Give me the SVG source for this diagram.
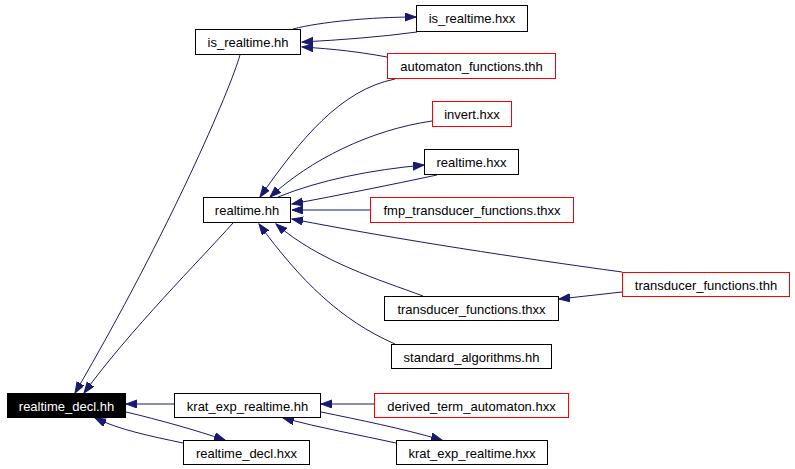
<svg xmlns="http://www.w3.org/2000/svg" width="795" height="469" viewBox="0 0 795 469">
<defs>
<marker id="ah" markerUnits="userSpaceOnUse" markerWidth="12" markerHeight="9" refX="11" refY="4" orient="auto">
<path d="M0,0 L11,4 L0,8 z" fill="#191970" stroke="#191970" stroke-width="1"/>
</marker>
<style>
.n rect{fill:#fff;stroke:#000;stroke-width:1}
.n.r rect{stroke:#ff0000}
.n text{font-family:"Liberation Sans",Arial,sans-serif;font-size:13px;fill:#000;text-anchor:middle}
.n.root rect{fill:#000}
.n.root text{fill:#fff}
.e path{fill:none;stroke:#191970;stroke-width:1;marker-end:url(#ah)}
</style>
</defs>
<rect width="795" height="469" fill="#fff"/>
<g id="edges" class="e">
<path d="M293,29 C320,22 370,17 416,17"/>
<path d="M417,32 C380,37 340,40 302,42"/>
<path d="M387,57 C360,52 335,49 302,47"/>
<path d="M395,79 C340,90 300,140 260,197"/>
<path d="M432,121 C370,130 310,160 270,197"/>
<path d="M278,197 C320,180 370,170 424,165"/>
<path d="M437,175 C390,185 340,195 292,204"/>
<path d="M370,210 L292,210"/>
<path d="M622,272 C520,258 400,240 292,219"/>
<path d="M622,292 L559,299"/>
<path d="M423,296 C380,280 320,262 276,224"/>
<path d="M395,344 C340,320 300,280 259,224"/>
<path d="M240,55 C230,90 170,230 75,393"/>
<path d="M233,223 C200,260 130,330 84,393"/>
<path d="M174,404 L126,404"/>
<path d="M126,412 C160,420 195,430 225,440"/>
<path d="M183,443 C150,436 120,430 95,418"/>
<path d="M374,404 L321,404"/>
<path d="M321,412 C360,420 400,428 442,440"/>
<path d="M396,443 C360,435 320,428 283,418"/>
</g>
<g id="realtime_decl_hh" class="n root"><rect x="7.5" y="393.5" width="118" height="24"/><text x="66.5" y="411">realtime_decl.hh</text></g>
<g id="is_realtime_hh" class="n"><rect x="195.5" y="29.5" width="105" height="25"/><text x="248" y="47">is_realtime.hh</text></g>
<g id="is_realtime_hxx" class="n"><rect x="416.5" y="5.5" width="111" height="26"/><text x="472" y="23">is_realtime.hxx</text></g>
<g id="automaton_functions_thh" class="n r"><rect x="387.5" y="53.5" width="168" height="25"/><text x="471.5" y="71">automaton_functions.thh</text></g>
<g id="invert_hxx" class="n r"><rect x="432.5" y="101.5" width="79" height="25"/><text x="472" y="119">invert.hxx</text></g>
<g id="realtime_hxx" class="n"><rect x="424.5" y="149.5" width="94" height="25"/><text x="471.5" y="167">realtime.hxx</text></g>
<g id="realtime_hh" class="n"><rect x="203.5" y="197.5" width="87" height="25"/><text x="247" y="215">realtime.hh</text></g>
<g id="fmp_transducer_functions_thxx" class="n r"><rect x="370.5" y="197.5" width="203" height="25"/><text x="472" y="215">fmp_transducer_functions.thxx</text></g>
<g id="transducer_functions_thh" class="n r"><rect x="622.5" y="272.5" width="167" height="24"/><text x="706" y="290">transducer_functions.thh</text></g>
<g id="transducer_functions_thxx" class="n"><rect x="384.5" y="296.5" width="174" height="24"/><text x="471.5" y="314">transducer_functions.thxx</text></g>
<g id="standard_algorithms_hh" class="n"><rect x="391.5" y="344.5" width="160" height="24"/><text x="471.5" y="362">standard_algorithms.hh</text></g>
<g id="krat_exp_realtime_hh" class="n"><rect x="174.5" y="393.5" width="146" height="24"/><text x="247.5" y="411">krat_exp_realtime.hh</text></g>
<g id="derived_term_automaton_hxx" class="n r"><rect x="374.5" y="393.5" width="194" height="24"/><text x="471.5" y="411">derived_term_automaton.hxx</text></g>
<g id="realtime_decl_hxx" class="n"><rect x="183.5" y="440.5" width="126" height="24"/><text x="246.5" y="458">realtime_decl.hxx</text></g>
<g id="krat_exp_realtime_hxx" class="n"><rect x="396.5" y="440.5" width="151" height="24"/><text x="472" y="458">krat_exp_realtime.hxx</text></g>
</svg>
